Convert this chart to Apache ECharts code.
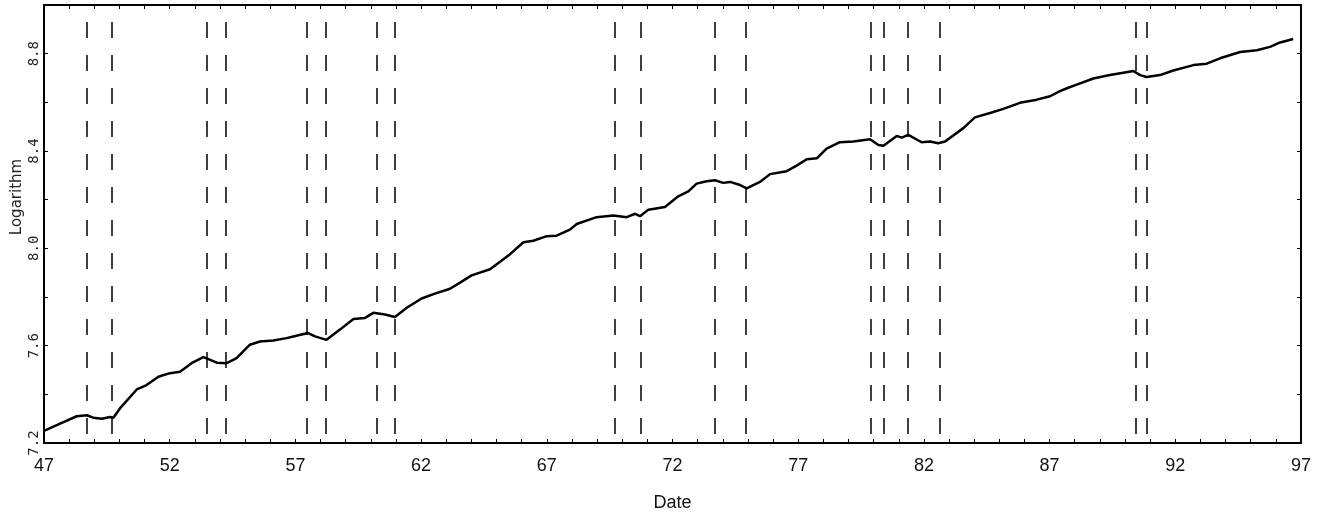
<!DOCTYPE html>
<html>
<head>
<meta charset="utf-8">
<script src="https://cdn.jsdelivr.net/npm/echarts@6/dist/echarts.min.js"></script>
<style>
html,body{margin:0;padding:0;background:#fff;}
#chart{width:1323px;height:524px;}
</style>
</head>
<body>
<div id="chart"></div>
<script>
// Date (decimal year, 19xx) of each reading of the curve
const years = [47.0, 47.64, 48.3, 48.7, 48.96, 49.3, 49.63, 49.76, 50.02, 50.69, 51.08, 51.55, 52.01, 52.41, 52.87, 53.34, 53.54, 53.87, 54.27, 54.66, 55.19, 55.59, 56.12, 56.65, 56.92, 57.2, 57.51, 57.78, 58.24, 58.77, 59.31, 59.77, 60.1, 60.56, 60.96, 61.43, 62.02, 62.55, 63.15, 63.55, 64.01, 64.74, 65.14, 65.54, 66.07, 66.46, 67.0, 67.39, 67.92, 68.19, 68.98, 69.65, 70.18, 70.51, 70.71, 71.04, 71.7, 72.23, 72.63, 72.96, 73.36, 73.69, 74.02, 74.29, 74.69, 74.95, 75.48, 75.88, 76.54, 76.94, 77.34, 77.74, 78.13, 78.66, 79.19, 79.86, 80.19, 80.39, 80.92, 81.12, 81.38, 81.91, 82.24, 82.57, 82.84, 83.57, 84.03, 84.63, 85.16, 85.82, 86.49, 87.02, 87.41, 87.74, 88.08, 88.74, 89.4, 89.93, 90.33, 90.6, 90.86, 91.39, 91.92, 92.72, 93.25, 93.78, 94.58, 95.24, 95.77, 96.17, 96.69];
// Logarithm values
const logValues = [7.25, 7.28, 7.31, 7.314, 7.304, 7.30, 7.307, 7.304, 7.342, 7.42, 7.438, 7.472, 7.487, 7.493, 7.528, 7.553, 7.545, 7.53, 7.528, 7.549, 7.604, 7.617, 7.621, 7.631, 7.638, 7.645, 7.652, 7.638, 7.624, 7.666, 7.71, 7.714, 7.735, 7.728, 7.718, 7.756, 7.794, 7.814, 7.834, 7.859, 7.889, 7.914, 7.945, 7.976, 8.025, 8.031, 8.05, 8.052, 8.077, 8.10, 8.128, 8.135, 8.128, 8.142, 8.132, 8.159, 8.17, 8.214, 8.234, 8.266, 8.276, 8.28, 8.269, 8.273, 8.26, 8.246, 8.273, 8.305, 8.317, 8.34, 8.366, 8.37, 8.41, 8.436, 8.439, 8.448, 8.425, 8.422, 8.462, 8.455, 8.466, 8.436, 8.439, 8.432, 8.439, 8.494, 8.538, 8.556, 8.573, 8.598, 8.611, 8.625, 8.646, 8.66, 8.673, 8.698, 8.712, 8.722, 8.729, 8.712, 8.704, 8.712, 8.731, 8.753, 8.759, 8.781, 8.807, 8.814, 8.828, 8.846, 8.86];
// Recession peaks and troughs (dashed vertical lines)
const recessionPeaks = [48.72, 53.48, 57.46, 60.24, 69.72, 73.70, 79.87, 81.36, 90.42];
const recessionTroughs = [49.70, 54.22, 58.20, 60.97, 70.72, 74.90, 80.40, 82.64, 90.88];
// Axis settings
const xMin = 47, xMax = 97, xLabelStep = 5;
const yMin = 7.2, yMax = 9.0, yTickStep = 0.2;
const yLabelValues = [7.2, 7.6, 8.0, 8.4, 8.8];

const chart = echarts.init(document.getElementById('chart'));
const seriesData = years.map((y, i) => [y, logValues[i]]);
const markData = recessionPeaks.concat(recessionTroughs).map(v => ({ xAxis: v }));

const axisLine = { show: true, onZero: false, lineStyle: { color: '#000', width: 2 } };
const tick = { show: true, inside: true, length: 4, lineStyle: { color: '#000', width: 1 } };
const narrowFont = '"Liberation Sans Narrow", "Liberation Sans", sans-serif';

const option = {
  animation: false,
  backgroundColor: '#fff',
  grid: { left: 44, top: 5, right: 22, bottom: 81, containLabel: false, outerBoundsMode: 'none' },
  xAxis: [{
    type: 'value', min: xMin, max: xMax, interval: 1, position: 'bottom',
    axisLine: axisLine, axisTick: tick, splitLine: { show: false },
    axisLabel: {
      margin: 14, color: '#111', fontSize: 18, fontFamily: narrowFont,
      formatter: v => (Math.round(v - xMin) % xLabelStep === 0 ? String(Math.round(v)) : '')
    },
    name: 'Date', nameLocation: 'middle', nameGap: 51, nameMoveOverlap: false,
    nameTextStyle: { color: '#111', fontSize: 18, fontFamily: narrowFont }
  }, {
    type: 'value', min: xMin, max: xMax, interval: 1, position: 'top',
    axisLine: axisLine, axisTick: tick, axisLabel: { show: false }, splitLine: { show: false }
  }],
  yAxis: [{
    type: 'value', min: yMin, max: yMax, interval: yTickStep, position: 'left',
    axisLine: axisLine, axisTick: tick, splitLine: { show: false },
    axisLabel: {
      rotate: 90, margin: 3, color: '#222', fontSize: 14,
      fontFamily: '"DejaVu Sans Mono", monospace',
      formatter: v => (yLabelValues.some(t => Math.abs(t - v) < 1e-6) ? v.toFixed(1) : '')
    },
    name: 'Logarithm', nameLocation: 'middle', nameRotate: 90, nameGap: 19, nameMoveOverlap: false,
    nameTextStyle: { color: '#222', fontSize: 15, fontFamily: '"DejaVu Sans", sans-serif', padding: [0, 0, 0, 54] }
  }, {
    type: 'value', min: yMin, max: yMax, interval: yTickStep, position: 'right',
    axisLine: axisLine, axisTick: tick, axisLabel: { show: false }, splitLine: { show: false }
  }],
  series: [{
    type: 'line', xAxisIndex: 0, yAxisIndex: 0,
    data: seriesData, showSymbol: false, symbol: 'none',
    lineStyle: { color: '#000', width: 2.5 },
    markLine: {
      silent: true, symbol: ['none', 'none'],
      label: { show: false },
      lineStyle: { color: '#000', width: 1.5, type: [16, 17], dashOffset: 24 },
      data: markData
    }
  }]
};
chart.setOption(option);
</script>
</body>
</html>
